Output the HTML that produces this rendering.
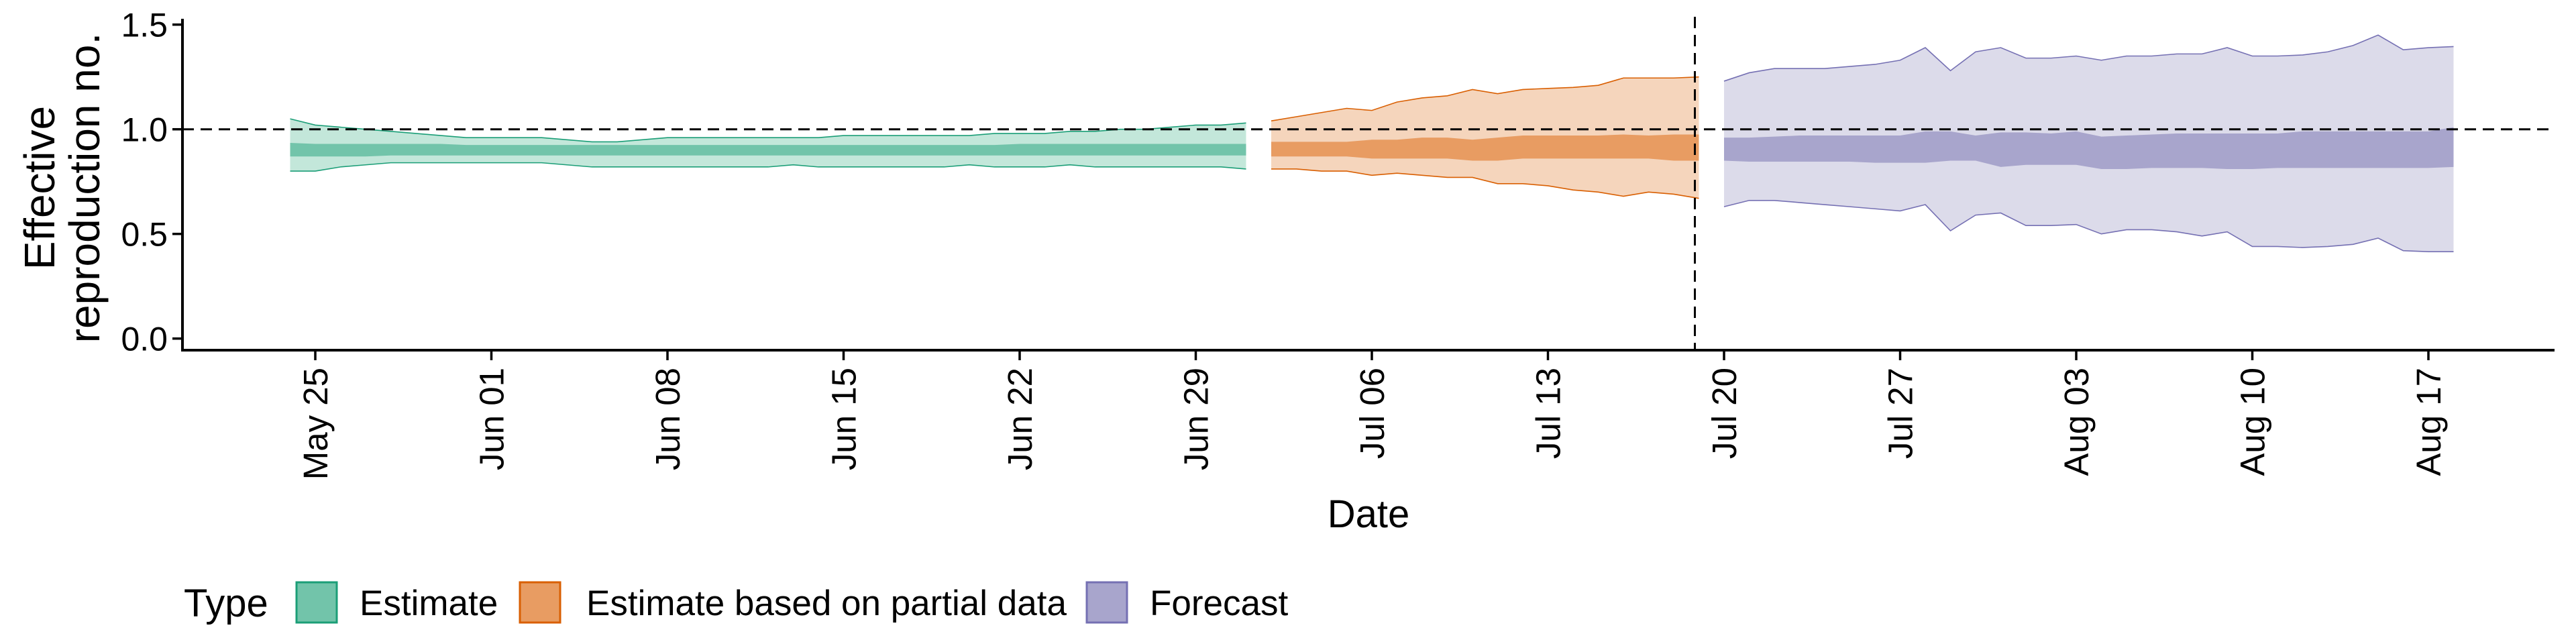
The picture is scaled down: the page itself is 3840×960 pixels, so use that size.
<!DOCTYPE html>
<html><head><meta charset="utf-8"><style>
html,body{margin:0;padding:0;background:#fff;}
svg{display:block;font-family:"Liberation Sans",Arial,sans-serif;}
</style></head><body>
<svg id="chart" width="3840" height="960" viewBox="0 0 3840 960" xmlns="http://www.w3.org/2000/svg">
<g id="bands"></g>
<g id="axes"></g>
</svg>
<script>
const tickLabels = ["May 25","Jun 01","Jun 08","Jun 15","Jun 22","Jun 29","Jul 06","Jul 13","Jul 20","Jul 27","Aug 03","Aug 10","Aug 17"];
const tickDays = [1,8,15,22,29,36,43,50,57,64,71,78,85];
const yTicks = [0,0.5,1.0,1.5];
const cutoffDay = 56;
const greenStart = 0;
const gU = [1.05,1.02,1.01,1.0,0.99,0.98,0.97,0.96,0.96,0.96,0.96,0.95,0.94,0.94,0.95,0.96,0.96,0.96,0.96,0.96,0.96,0.96,0.97,0.97,0.97,0.97,0.97,0.97,0.98,0.98,0.98,0.99,0.99,1.0,1.0,1.01,1.02,1.02,1.03];
const gL = [0.80,0.80,0.82,0.83,0.84,0.84,0.84,0.84,0.84,0.84,0.84,0.83,0.82,0.82,0.82,0.82,0.82,0.82,0.82,0.82,0.83,0.82,0.82,0.82,0.82,0.82,0.82,0.83,0.82,0.82,0.82,0.83,0.82,0.82,0.82,0.82,0.82,0.82,0.81];
const gIU = [0.935,0.93,0.93,0.93,0.93,0.93,0.93,0.925,0.925,0.925,0.925,0.925,0.925,0.925,0.925,0.925,0.925,0.925,0.925,0.925,0.925,0.925,0.925,0.925,0.925,0.925,0.925,0.925,0.925,0.93,0.93,0.93,0.93,0.93,0.93,0.93,0.93,0.93,0.93];
const gIL = [0.87,0.87,0.87,0.87,0.875,0.875,0.875,0.875,0.875,0.875,0.875,0.875,0.875,0.875,0.875,0.875,0.875,0.875,0.875,0.875,0.875,0.875,0.875,0.875,0.875,0.875,0.875,0.875,0.875,0.875,0.875,0.875,0.875,0.875,0.875,0.875,0.875,0.875,0.875];
const orangeStart = 39;
const oU = [1.04,1.06,1.08,1.10,1.09,1.13,1.15,1.16,1.19,1.17,1.19,1.195,1.20,1.21,1.245,1.245,1.245,1.25];
const oL = [0.81,0.81,0.80,0.80,0.78,0.79,0.78,0.77,0.77,0.74,0.74,0.73,0.71,0.70,0.68,0.70,0.69,0.67];
const oIU = [0.94,0.94,0.94,0.94,0.95,0.95,0.96,0.96,0.95,0.96,0.97,0.97,0.97,0.97,0.975,0.97,0.975,0.975];
const oIL = [0.87,0.87,0.87,0.87,0.86,0.86,0.86,0.86,0.85,0.85,0.86,0.86,0.86,0.86,0.86,0.86,0.85,0.85];
const purpleStart = 57;
const pU = [1.23,1.27,1.29,1.29,1.29,1.30,1.31,1.33,1.39,1.28,1.37,1.39,1.34,1.34,1.35,1.33,1.35,1.35,1.36,1.36,1.39,1.35,1.35,1.355,1.37,1.40,1.45,1.38,1.39,1.395];
const pL = [0.63,0.66,0.66,0.65,0.64,0.63,0.62,0.61,0.64,0.515,0.59,0.60,0.54,0.54,0.545,0.50,0.52,0.52,0.51,0.49,0.51,0.44,0.44,0.435,0.44,0.45,0.48,0.42,0.415,0.415];
const pIU = [0.96,0.96,0.965,0.97,0.97,0.97,0.97,0.97,0.99,0.99,0.97,0.985,0.985,0.98,0.99,0.965,0.97,0.975,0.98,0.98,0.98,0.98,0.98,0.99,0.99,0.99,0.99,0.99,0.99,1.01];
const pIL = [0.85,0.845,0.845,0.845,0.845,0.845,0.84,0.84,0.84,0.85,0.85,0.82,0.83,0.83,0.83,0.81,0.81,0.815,0.815,0.815,0.81,0.81,0.815,0.815,0.815,0.815,0.815,0.815,0.815,0.82];

const NS = "http://www.w3.org/2000/svg";
const X0 = 272, X1 = 3808, YAX = 522;
function xs(d){ return 432.5 + d*37.5; }
function ys(v){ return 504.7 - v*312; }
function mk(tag, attrs, parent){
  const el = document.createElementNS(NS, tag);
  for (const k in attrs) el.setAttribute(k, attrs[k]);
  parent.appendChild(el);
  return el;
}
const bands = document.getElementById('bands');
const axes = document.getElementById('axes');

function ribbon(start, up, lo, iu, il, outer, inner, line, name){
  const g = mk('g', {}, bands);
  
  
  const ptsU = up.map((v,i)=>xs(start+i)+','+ys(v));
  const ptsL = lo.map((v,i)=>xs(start+i)+','+ys(v)).reverse();
  const o = mk('polygon', {points: ptsU.concat(ptsL).join(' '), fill: outer}, g);
  
  
  const iU = iu.map((v,i)=>xs(start+i)+','+ys(v));
  const iL = il.map((v,i)=>xs(start+i)+','+ys(v)).reverse();
  const inn = mk('polygon', {points: iU.concat(iL).join(' '), fill: inner}, g);
  
  
  const l1 = mk('polyline', {points: ptsU.join(' '), fill: 'none', stroke: line, 'stroke-width': 1.6}, g);
  
  
  const l2 = mk('polyline', {points: ptsL.join(' '), fill: 'none', stroke: line, 'stroke-width': 1.6}, g);
  
  
}
ribbon(greenStart, gU, gL, gIU, gIL, '#c3e7da', '#72c4aa', '#1b9e77', 'estimate');
ribbon(orangeStart, oU, oL, oIU, oIL, '#f5d5bc', '#e89c62', '#d95f02', 'partial-estimate');
ribbon(purpleStart, pU, pL, pIU, pIL, '#dcdbea', '#a8a5cc', '#7570b3', 'forecast');

const h = mk('line', {x1: X0, x2: X1, y1: ys(1), y2: ys(1), stroke: '#000', 'stroke-width': 3, 'stroke-dasharray': '17 10'}, axes);


const vx = xs(cutoffDay) - 6;
const v = mk('line', {x1: vx, x2: vx, y1: 25, y2: YAX, stroke: '#000', 'stroke-width': 3, 'stroke-dasharray': '17 10'}, axes);



const ya = mk('line', {x1: X0, x2: X0, y1: 28, y2: YAX+2, stroke: '#000', 'stroke-width': 4}, axes);


const xa = mk('line', {x1: X0-2, x2: X1, y1: YAX, y2: YAX, stroke: '#000', 'stroke-width': 4}, axes);



yTicks.forEach(t=>{
  const tk = mk('line', {x1: X0-15, x2: X0, y1: ys(t), y2: ys(t), stroke: '#000', 'stroke-width': 3.5}, axes);
  
  
  const tx = mk('text', {x: X0-22, y: ys(t)+18, 'text-anchor': 'end', 'font-size': 50, fill: '#000'}, axes);
  tx.textContent = t.toFixed(1);
  
  
});
tickDays.forEach((d,i)=>{
  const x = xs(d);
  const tk = mk('line', {x1: x, x2: x, y1: YAX, y2: YAX+15, stroke: '#000', 'stroke-width': 3.5}, axes);
  
  
  const tx = mk('text', {x: 0, y: 0, 'text-anchor': 'end', 'font-size': 51, fill: '#000', transform: `translate(${x+18},${YAX+26}) rotate(-90)`}, axes);
  tx.textContent = tickLabels[i];
  
  
});

const yt = mk('text', {x: 0, y: 0, 'text-anchor': 'middle', 'font-size': 64, fill: '#000', transform: 'translate(0,280) rotate(-90)'}, axes);


const t1 = mk('tspan', {x: 0, y: 81}, yt); t1.textContent = 'Effective';
const t2 = mk('tspan', {x: 0, y: 148}, yt); t2.textContent = 'reproduction no.';

const xt = mk('text', {x: 2040, y: 786, 'text-anchor': 'middle', 'font-size': 58, fill: '#000'}, axes);
xt.textContent = 'Date';



const lg = mk('g', {}, axes);


const lt = mk('text', {x: 274, y: 919, 'font-size': 58, fill: '#000'}, lg);
lt.textContent = 'Type';


const legItems = [
  {bx: 442, tx: 536, fill: '#72c4aa', stroke: '#1b9e77', label: 'Estimate'},
  {bx: 775, tx: 874, fill: '#e89c62', stroke: '#d95f02', label: 'Estimate based on partial data'},
  {bx: 1620, tx: 1714, fill: '#a8a5cc', stroke: '#7570b3', label: 'Forecast'}
];
legItems.forEach(it=>{
  const r = mk('rect', {x: it.bx, y: 868, width: 60, height: 60, fill: it.fill, stroke: it.stroke, 'stroke-width': 3}, lg);
  
  
  const t = mk('text', {x: it.tx, y: 917, 'font-size': 53, fill: '#000'}, lg);
  t.textContent = it.label;
  
  
});
</script>
</body></html>
